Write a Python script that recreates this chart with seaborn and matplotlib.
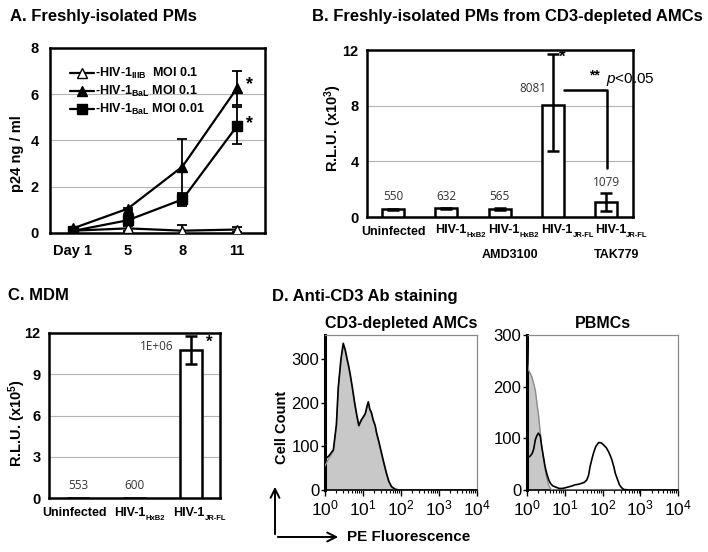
import numpy as np
import pandas as pd
import matplotlib
matplotlib.use("Agg")
import matplotlib.pyplot as plt
import matplotlib.transforms as mtrans
from matplotlib.patches import FancyArrowPatch
import seaborn as sns

# ---------------- data ----------------
# Panel A: p24 ng/ml
days = ["Day 1", "5", "8", "11"]
iiib_01 = [0.10, 0.20, 0.10, 0.15]
iiib_01_err = [0.05, 0.10, 0.25, 0.10]
bal_01 = [0.20, 1.05, 2.87, 6.27]
bal_01_err = [0.05, 0.05, 1.20, 0.72]
bal_001 = [0.09, 0.55, 1.45, 4.63]
bal_001_err = [0.03, 0.10, 0.27, 0.80]

# Panel B: R.L.U. (x10^3)
b_cats = ["Uninfected", "HxB2", "HxB2+AMD3100", "JR-FL", "JR-FL+TAK779"]
b_main = ["Uninfected", "HIV-1", "HIV-1", "HIV-1", "HIV-1"]
b_sub = ["", "HxB2", "HxB2", "JR-FL", "JR-FL"]
b_extra = ["", "", "AMD3100", "", "TAK779"]
b_vals = [0.550, 0.632, 0.565, 8.081, 1.079]
b_err_lo = [0.05, 0.03, 0.08, 3.35, 0.65]
b_err_hi = [0.05, 0.03, 0.08, 3.60, 0.65]
b_labels = ["550", "632", "565", "8081", "1079"]

# Panel C: R.L.U. (x10^5)
c_cats = ["Uninfected", "HxB2", "JR-FL"]
c_main = ["Uninfected", "HIV-1", "HIV-1"]
c_sub = ["", "HxB2", "JR-FL"]
c_vals = [0.00553, 0.00600, 10.75]
c_err = [0.0, 0.0, 1.0]
c_labels = ["553", "600", "1E+06"]

# Panel D: flow histograms (x in decades of PE fluorescence, y = cell count)
amc_x = [0.0, 0.10, 0.22, 0.30, 0.35, 0.42, 0.48, 0.53, 0.57, 0.62, 0.66, 0.72,
         0.78, 0.84, 0.89, 0.95, 1.01, 1.06, 1.10, 1.14, 1.18, 1.22, 1.27, 1.32,
         1.36, 1.42, 1.49, 1.55, 1.62, 1.68, 1.75, 1.84, 1.95, 2.50, 3.00, 4.00]
amc_cd3 = [70, 78, 92, 150, 236, 300, 336, 322, 305, 285, 267, 235,
           200, 170, 148, 160, 168, 175, 190, 202, 185, 178, 160, 148,
           130, 110, 84, 62, 38, 20, 8, 2, 0, 0, 0, 0]
amc_iso = [55, 72, 88, 145, 230, 295, 330, 318, 300, 282, 262, 230,
           196, 166, 145, 156, 165, 172, 186, 198, 182, 175, 157, 145,
           127, 106, 80, 58, 35, 18, 6, 1, 0, 0, 0, 0]

pbmc_iso_x = [0.0, 0.02, 0.04, 0.09, 0.13, 0.18, 0.22, 0.26, 0.31, 0.35, 0.39,
              0.44, 0.48, 0.53, 0.57, 0.64, 0.70, 4.00]
pbmc_iso = [300, 245, 232, 225, 219, 205, 193, 170, 142, 112, 84,
            60, 39, 22, 10, 1, 0, 0]
pbmc_cd3_x = [0.0, 0.02, 0.05, 0.09, 0.14, 0.18, 0.22, 0.26, 0.30, 0.35, 0.39,
              0.44, 0.48, 0.53, 0.58, 0.62, 0.68, 0.75, 0.85, 0.92, 1.00, 1.10,
              1.20, 1.27, 1.36, 1.45, 1.52, 1.58, 1.63, 1.67, 1.72, 1.76, 1.82,
              1.90, 1.97, 2.03, 2.10, 2.16, 2.21, 2.25, 2.30, 2.34, 2.40, 2.45,
              2.50, 2.56, 2.70, 4.00]
pbmc_cd3 = [300, 68, 64, 66, 71, 80, 97, 105, 110, 105, 84,
            62, 45, 30, 19, 13, 8, 6, 3, 3, 4, 6,
            8, 10, 11, 13, 15, 19, 28, 45, 60, 71, 84,
            92, 91, 87, 82, 74, 66, 58, 45, 32, 20, 10,
            5, 1, 0, 0]
decades = [r"$10^{0}$", r"$10^{1}$", r"$10^{2}$", r"$10^{3}$", r"$10^{4}$"]

# ---------------- style ----------------
sns.set_theme(style="white")
plt.rcParams["font.family"] = ["Liberation Sans", "DejaVu Sans"]
plt.rcParams["mathtext.fontset"] = "custom"
plt.rcParams["mathtext.rm"] = "Liberation Sans"
plt.rcParams["mathtext.it"] = "Liberation Sans:italic"
plt.rcParams["mathtext.bf"] = "Liberation Sans:bold"
for k in ("text.color", "axes.labelcolor", "xtick.color", "ytick.color"):
    plt.rcParams[k] = "black"

W, H = 708, 552
fig = plt.figure(figsize=(W / 100, H / 100), dpi=100)


def px_axes(l, t, r, b):
    return fig.add_axes([l / W, 1 - b / H, (r - l) / W, (b - t) / H])


def ftxt(x, y, s, **kw):
    fig.text(x / W, 1 - y / H, s, **kw)


def boxify(ax, lw=1.8):
    for sp in ax.spines.values():
        sp.set_visible(True)
        sp.set_color("black")
        sp.set_linewidth(lw)


def cat_label(ax, x, main, subtxt, dx_px, dy_px, size=9, subsize=5.5):
    tr = (mtrans.blended_transform_factory(ax.transData, ax.transAxes) +
          mtrans.ScaledTranslation(dx_px / 100, -dy_px / 100, fig.dpi_scale_trans))
    t = ax.text(x, 0, main, transform=tr, ha="center", va="center",
                fontsize=size, fontweight="bold")
    if subtxt:
        ax.annotate(subtxt, xy=(1.0, 0.08), xycoords=t, ha="left", va="center",
                    fontsize=subsize, fontweight="bold")
    return t


GRID = "#b4b4b4"
sub = lambda s: r"$_{\mathbf{" + s + "}}$"

# ---------------- Panel A ----------------
axA = px_axes(50, 48, 265, 233)
pos = np.arange(len(days))
series = [
    (iiib_01, iiib_01_err, "^", "white", "-HIV-1" + sub("IIIB") + "  MOI 0.1"),
    (bal_01, bal_01_err, "^", "black", "-HIV-1" + sub("BaL") + " MOI 0.1"),
    (bal_001, bal_001_err, "s", "black", "-HIV-1" + sub("BaL") + " MOI 0.01"),
]
for vals, err, mk, fc, lab in series:
    axA.errorbar(pos, vals, yerr=err, fmt="none", ecolor="black", elinewidth=1.3,
                 capsize=3.5, capthick=1.3, zorder=3)
    sns.lineplot(x=pos, y=vals, ax=axA, color="black", lw=1.6, marker=mk,
                 markersize=7, markerfacecolor=fc, markeredgecolor="black",
                 markeredgewidth=1.0, label=lab, zorder=4)
axA.set_xlim(-0.42, 3.51)
axA.set_ylim(0, 8)
axA.set_yticks([0, 2, 4, 6, 8])
axA.set_xticks(pos)
axA.set_xticklabels(days, fontweight="bold", fontsize=10.5)
axA.set_yticklabels(["0", "2", "4", "6", "8"], fontweight="bold", fontsize=10.5)
axA.yaxis.grid(True, color=GRID, lw=0.8)
axA.set_axisbelow(True)
axA.tick_params(length=0, pad=8)
axA.set_xlabel("")
axA.set_ylabel("")
boxify(axA)
leg = axA.legend(loc="upper left", bbox_to_anchor=(0.07, 0.93), frameon=False,
                 handlelength=1.9, handletextpad=0.1, labelspacing=0.25,
                 borderaxespad=0, prop={"weight": "bold", "size": 9})
axA.text(3.22, 6.4, "*", fontsize=13, fontweight="bold", ha="center", va="center")
axA.text(3.22, 4.72, "*", fontsize=13, fontweight="bold", ha="center", va="center")
ftxt(17, 154, "p24 ng / ml", rotation=90, fontsize=10.5, fontweight="bold",
     ha="center", va="center")
ftxt(10, 17, "A. Freshly-isolated PMs", fontsize=12, fontweight="bold",
     ha="left", va="center")

# ---------------- Panel B ----------------
axB = px_axes(367, 50, 633, 217)
dfB = pd.DataFrame({"cat": b_cats, "val": b_vals})
sns.barplot(data=dfB, x="cat", y="val", ax=axB, color="white", edgecolor="black",
            linewidth=1.8, width=0.41, saturation=1, errorbar=None, zorder=3)
axB.errorbar(np.arange(len(b_cats)), b_vals, yerr=[b_err_lo, b_err_hi], fmt="none",
             ecolor="black", elinewidth=1.8, capsize=4, capthick=1.8, zorder=4)
axB.set_xlim(-0.49, 4.5)
axB.set_ylim(0, 12)
axB.set_yticks([0, 4, 8, 12])
axB.set_yticklabels(["0", "4", "8", "12"], fontweight="bold", fontsize=10.5)
axB.set_xticks(range(5))
axB.set_xticklabels([])
for i, (m, s, e) in enumerate(zip(b_main, b_sub, b_extra)):
    if s:
        cat_label(axB, i, m, s, 4, 13)
    else:
        cat_label(axB, i, m, s, 0, 15)
    if e:
        cat_label(axB, i, e, "", 10, 38)
axB.yaxis.grid(True, color=GRID, lw=0.8)
axB.set_axisbelow(True)
axB.tick_params(length=0, pad=6)
axB.set_xlabel("")
axB.set_ylabel("")
boxify(axB)
lbl_y = [1.44, 1.50, 1.44, 9.2, 2.45]
lbl_x = [0, 1, 2, 2.62, 4]
for xx, yy, s in zip(lbl_x, lbl_y, b_labels):
    axB.text(xx, yy, s, fontsize=8.5, color="#333333", ha="center", va="center",
             family=["Open Sans", "DejaVu Sans"])
axB.text(3.18, 11.45, "*", fontsize=12, fontweight="bold", ha="center", va="center")
axB.text(3.78, 10.2, "**", fontsize=10, fontweight="bold", ha="center", va="center")
axB.text(4.0, 9.85, r"$\it{p}$<0.05", fontsize=11, ha="left", va="center")
axB.plot([3.2, 4.02, 4.02], [9.1, 9.1, 3.5], color="black", lw=1.8, zorder=5)
ftxt(333, 128, r"R.L.U. (x10$^{\mathbf{3}}$)", rotation=90, fontsize=10.5,
     fontweight="bold", ha="center", va="center")
ftxt(312, 17, "B. Freshly-isolated PMs from CD3-depleted AMCs", fontsize=12,
     fontweight="bold", ha="left", va="center")

# ---------------- Panel C ----------------
axC = px_axes(49, 333, 220, 498)
dfC = pd.DataFrame({"cat": c_cats, "val": c_vals})
sns.barplot(data=dfC, x="cat", y="val", ax=axC, color="white", edgecolor="black",
            linewidth=1.8, width=0.39, saturation=1, errorbar=None, zorder=3)
axC.errorbar([2], [c_vals[2]], yerr=[c_err[2]], fmt="none", ecolor="black",
             elinewidth=1.8, capsize=4, capthick=1.8, zorder=4)
axC.set_xlim(-0.51, 2.51)
axC.set_ylim(0, 12)
axC.set_yticks([0, 3, 6, 9, 12])
axC.set_yticklabels(["0", "3", "6", "9", "12"], fontweight="bold", fontsize=10.5)
axC.set_xticks(range(3))
axC.set_xticklabels([])
for i, (m, s, dx) in enumerate(zip(c_main, c_sub, [-3, -5, -2])):
    cat_label(axC, i, m, s, dx, 15)
axC.yaxis.grid(True, color=GRID, lw=0.8)
axC.set_axisbelow(True)
axC.tick_params(length=0, pad=6)
axC.set_xlabel("")
axC.set_ylabel("")
boxify(axC)
for xx, yy, s in zip([0, 1, 1.4], [0.9, 0.9, 11.05], c_labels):
    axC.text(xx, yy, s, fontsize=8.5, color="#333333", ha="center", va="center",
             family=["Open Sans", "DejaVu Sans"])
axC.text(2.32, 11.3, "*", fontsize=12, fontweight="bold", ha="center", va="center")
ftxt(17, 423, r"R.L.U. (x10$^{\mathbf{5}}$)", rotation=90, fontsize=10.5,
     fontweight="bold", ha="center", va="center")
ftxt(8, 296, "C. MDM", fontsize=12, fontweight="bold", ha="left", va="center")

# ---------------- Panel D ----------------
def flow_axes(ax, ymax):
    ax.set_xlim(0, 4)
    ax.set_ylim(0, ymax)
    ax.set_xticks(range(5))
    ax.set_xticklabels(decades, fontsize=12.5)
    minors = [k + np.log10(m) for k in range(4) for m in range(2, 10)]
    ax.set_xticks(minors, minor=True)
    ax.set_yticks([0, 100, 200, 300])
    ax.set_yticklabels(["0", "100", "200", "300"], fontsize=12)
    ax.tick_params(axis="x", which="major", length=4, width=1, direction="out",
                   pad=2, bottom=True, color="black")
    ax.tick_params(axis="x", which="minor", length=2, width=0.8, direction="out",
                   bottom=True, color="black")
    ax.tick_params(axis="y", length=3, width=1, direction="out", left=True, pad=1)
    for side in ("top", "right"):
        ax.spines[side].set_visible(True)
        ax.spines[side].set_color("#8a8a8a")
        ax.spines[side].set_linewidth(0.9)
    ax.spines["left"].set_color("black")
    ax.spines["left"].set_linewidth(2.2)
    ax.spines["bottom"].set_color("black")
    ax.spines["bottom"].set_linewidth(1.2)
    ax.set_xlabel("")
    ax.set_ylabel("")


axD1 = px_axes(325, 335, 477, 490)
axD1.fill_between(amc_x, amc_iso, color="#c8c8c8", lw=0, zorder=2)
sns.lineplot(x=amc_x, y=amc_iso, ax=axD1, color="#8c8c8c", lw=1.0, errorbar=None, zorder=3)
sns.lineplot(x=amc_x, y=amc_cd3, ax=axD1, color="black", lw=1.2, errorbar=None, zorder=4)
flow_axes(axD1, 355)
axD1.set_title("CD3-depleted AMCs", fontsize=11.5, fontweight="bold", pad=5)

axD2 = px_axes(527, 335, 678, 490)
axD2.fill_between(pbmc_iso_x, pbmc_iso, color="#c8c8c8", lw=0, zorder=2)
sns.lineplot(x=pbmc_iso_x, y=pbmc_iso, ax=axD2, color="#8c8c8c", lw=1.0, errorbar=None, zorder=3)
sns.lineplot(x=pbmc_cd3_x, y=pbmc_cd3, ax=axD2, color="black", lw=1.2, errorbar=None, zorder=4)
flow_axes(axD2, 300)
axD2.set_title("PBMCs", fontsize=11.5, fontweight="bold", pad=5)

ftxt(272, 297, "D. Anti-CD3 Ab staining", fontsize=12, fontweight="bold",
     ha="left", va="center")
ftxt(282, 427, "Cell Count", rotation=90, fontsize=10.5, fontweight="bold",
     ha="center", va="center")
ftxt(347, 537, "PE Fluorescence", fontsize=11, fontweight="bold", ha="left",
     va="center")
for (x0, y0, x1, y1) in [(275, 537, 275, 484), (275, 537, 341, 537)]:
    fig.add_artist(FancyArrowPatch((x0 / W, 1 - y0 / H), (x1 / W, 1 - y1 / H),
                                   transform=fig.transFigure, arrowstyle="->",
                                   mutation_scale=16, lw=1.4, color="black"))

fig.savefig("out.png", dpi=100)
